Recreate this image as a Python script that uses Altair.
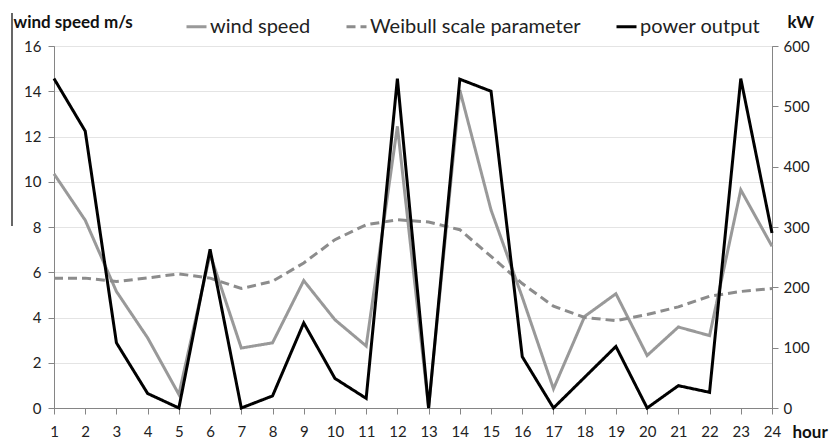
import altair as alt
import pandas as pd

hours = list(range(1, 25))
wind_speed = [10.35, 8.3, 5.15, 3.1, 0.6, 6.8, 2.65, 2.88, 5.63, 3.9, 2.74, 12.45,
              0.0, 14.05, 8.75, 4.9, 0.85, 4.05, 5.05, 2.32, 3.58, 3.2, 9.64, 7.15]
weibull = [5.74, 5.74, 5.59, 5.75, 5.93, 5.74, 5.28, 5.6, 6.41, 7.44, 8.1, 8.32,
           8.22, 7.88, 6.7, 5.5, 4.5, 4.0, 3.86, 4.13, 4.47, 4.94, 5.15, 5.28]
power = [546, 459, 108, 24, 0, 263, 0, 20, 141, 49, 16, 546,
         0, 545, 525, 85, 0, 51, 102, 0, 37, 26, 546, 290]

series_names = ["wind speed", "Weibull scale parameter", "power output"]

left_df = pd.DataFrame(
    {"hour": hours * 2,
     "value": wind_speed + weibull,
     "series": [series_names[0]] * 24 + [series_names[1]] * 24,
     "order": [1] * 24 + [0] * 24}
)
right_df = pd.DataFrame({"hour": hours, "power": power, "series": [series_names[2]] * 24})

FONT = "Lato"
LABEL_COLOR = "#222222"
AXIS_COLOR = "#858585"


def make_legend():
    return alt.Legend(
        title=None, orient="none", direction="horizontal",
        legendX=131, legendY=-31, padding=0,
        symbolType="stroke", symbolSize=400, symbolStrokeWidth=3,
        labelFont=FONT, labelFontSize=20, labelColor=LABEL_COLOR, labelLimit=0,
        labelOffset=2, columnPadding=29, columns=3,
    )


color = alt.Color(
    "series:N",
    scale=alt.Scale(domain=series_names, range=["#999999", "#8c8c8c", "#000000"]),
    legend=make_legend(),
)
dash = alt.StrokeDash(
    "series:N",
    scale=alt.Scale(domain=series_names, range=[[1, 0], [9, 5], [1, 0]]),
    legend=make_legend(),
)


def make_x():
    return alt.X(
        "hour:Q",
        scale=alt.Scale(domain=[1, 24], nice=False, zero=False),
        axis=alt.Axis(
            values=hours, tickCount=24, grid=False, title="hour", format="d",
            titleAngle=0, titleAlign="left", titleBaseline="alphabetic",
            titleX=738, titleY=29, titleFont=FONT, titleFontSize=17, titleFontWeight="bold",
            titleColor="#111111",
            labelFont=FONT, labelFontSize=15, labelColor=LABEL_COLOR, labelPadding=10,
            labelOverlap=False, labelSeparation=0,
            tickSize=6, tickColor=AXIS_COLOR, domainColor=AXIS_COLOR, labelFlush=False,
        ),
    )


left = alt.Chart(left_df).mark_line(strokeWidth=3).encode(
    x=make_x(),
    y=alt.Y(
        "value:Q",
        scale=alt.Scale(domain=[0, 16], nice=False),
        axis=alt.Axis(
            values=list(range(0, 17, 2)), grid=True, gridColor="#e4e4e4",
            title="wind speed m/s", titleAngle=0, titleAlign="left",
            titleBaseline="alphabetic", titleX=-41, titleY=-19,
            titleFont=FONT, titleFontSize=17, titleFontWeight="bold", titleColor="#111111",
            labelFont=FONT, labelFontSize=15, labelColor=LABEL_COLOR, labelPadding=7,
            labelOverlap=False,
            tickSize=6, tickColor=AXIS_COLOR, domainColor=AXIS_COLOR,
        ),
    ),
    color=color,
    strokeDash=dash,
    order=alt.Order("order:Q"),
)

right = alt.Chart(right_df).mark_line(strokeWidth=3).encode(
    x=make_x(),
    y=alt.Y(
        "power:Q",
        scale=alt.Scale(domain=[0, 600], nice=False),
        axis=alt.Axis(
            orient="right", values=list(range(0, 601, 100)), grid=False,
            title="kW", titleAngle=0, titleAlign="left", titleBaseline="alphabetic",
            titleX=15, titleY=-19,
            titleFont=FONT, titleFontSize=17, titleFontWeight="bold", titleColor="#111111",
            labelFont=FONT, labelFontSize=15, labelColor=LABEL_COLOR, labelPadding=5,
            labelOverlap=False,
            tickSize=6, tickColor=AXIS_COLOR, domainColor=AXIS_COLOR,
        ),
    ),
    color=color,
    strokeDash=dash,
)

stray = alt.Chart(alt.Data(values=[{}])).mark_rule(color="#000000", strokeWidth=1.2).encode(
    x=alt.value(-42), y=alt.value(-33), y2=alt.value(180)
)

chart = (
    alt.layer(left, right, stray)
    .resolve_scale(y="independent")
    .properties(
        width=718, height=362,
        autosize=alt.AutoSizeParams(type="none"),
        padding={"left": 54, "top": 46, "right": 58, "bottom": 34},
        background="white",
    )
    .configure_view(stroke=AXIS_COLOR, strokeWidth=1)
    .configure_axis(labelOverlap=False)
)

chart.save("out.html", embed_options={"renderer": "svg", "actions": False})
